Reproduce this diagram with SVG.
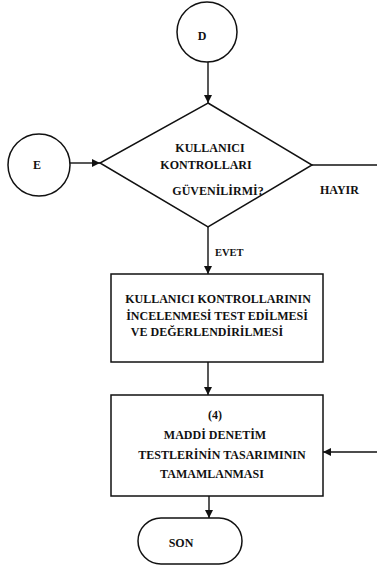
<svg xmlns="http://www.w3.org/2000/svg" width="377" height="567" viewBox="0 0 377 567">
  <style>
    .shape { fill: none; stroke: #111; stroke-width: 1.5; }
    .edge { fill: none; stroke: #111; stroke-width: 1.4; }
    .t { font-family: "Liberation Serif", "Times New Roman", serif; font-weight: bold; font-size: 12px; fill: #111; }
    .c { text-anchor: middle; }
  </style>
  <defs>
    <marker id="arrow" viewBox="0 0 10 10" refX="10" refY="5" markerWidth="8" markerHeight="8" markerUnits="userSpaceOnUse" orient="auto">
      <path d="M0,0 L10,5 L0,10 z" fill="#111"/>
    </marker>
  </defs>
  <rect x="0" y="0" width="377" height="567" fill="#fff"/>

  <g id="connectors">
    <line class="edge" x1="208" y1="62" x2="208" y2="103" marker-end="url(#arrow)"/>
    <line class="edge" x1="70" y1="163" x2="100" y2="163" marker-end="url(#arrow)"/>
    <line class="edge" x1="312" y1="165" x2="377" y2="165"/>
    <line class="edge" x1="208" y1="227" x2="208" y2="274" marker-end="url(#arrow)"/>
    <line class="edge" x1="208" y1="362" x2="208" y2="395" marker-end="url(#arrow)"/>
    <line class="edge" x1="377" y1="452" x2="323" y2="452" marker-end="url(#arrow)"/>
    <line class="edge" x1="209" y1="496" x2="209" y2="518" marker-end="url(#arrow)"/>
    <text class="t" x="320" y="194">HAYIR</text>
    <text class="t" x="215" y="256" style="font-size:10.5px">EVET</text>
  </g>

  <g id="node-d">
    <circle class="shape" cx="207" cy="32" r="30"/>
    <text class="t c" x="202" y="40">D</text>
  </g>

  <g id="node-e">
    <circle class="shape" cx="39" cy="165" r="31"/>
    <text class="t c" x="37" y="169">E</text>
  </g>

  <g id="node-decision">
    <polygon class="shape" points="208,103 312,165 208,227 100,163"/>
    <text class="t c" x="210" y="152">KULLANICI</text>
    <text class="t c" x="206" y="169">KONTROLLARI</text>
    <text class="t c" x="218" y="195">GÜVENİLİRMİ?</text>
  </g>

  <g id="node-review">
    <rect class="shape" x="111" y="274" width="212" height="88"/>
    <text class="t c" x="218" y="303">KULLANICI KONTROLLARININ</text>
    <text class="t c" x="217" y="320">İNCELENMESİ TEST EDİLMESİ</text>
    <text class="t c" x="207" y="336">VE DEĞERLENDİRİLMESİ</text>
  </g>

  <g id="node-design">
    <rect class="shape" x="111" y="395" width="212" height="101"/>
    <text class="t c" x="215" y="419">(4)</text>
    <text class="t c" x="215" y="439">MADDİ DENETİM</text>
    <text class="t c" x="222" y="459">TESTLERİNİN TASARIMININ</text>
    <text class="t c" x="212" y="478">TAMAMLANMASI</text>
  </g>

  <g id="node-end">
    <rect class="shape" x="138" y="518" width="104" height="46" rx="23" ry="23"/>
    <text class="t c" x="181" y="547">SON</text>
  </g>
</svg>
